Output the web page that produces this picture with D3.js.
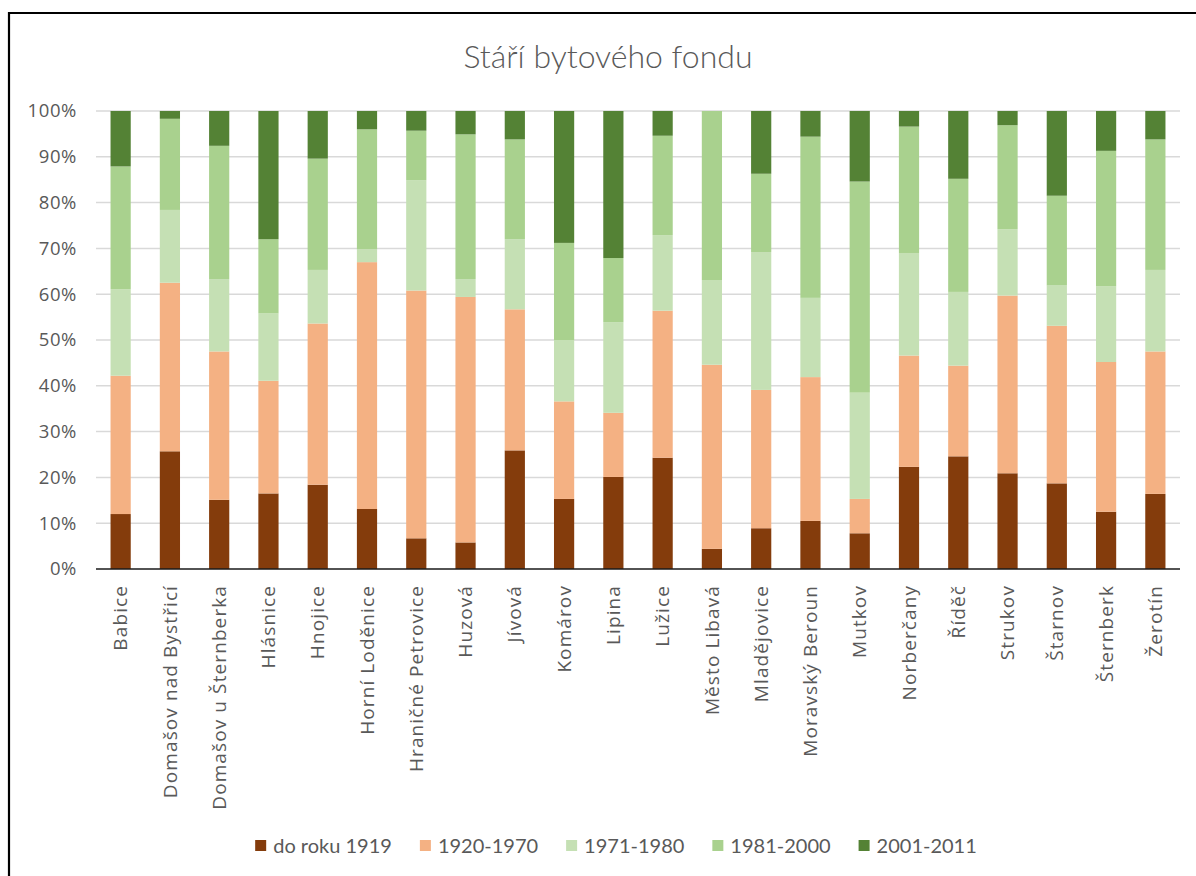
<!DOCTYPE html>
<html>
<head>
<meta charset="utf-8">
<script src="https://cdn.jsdelivr.net/npm/d3@7"></script>
<style>
  html, body { margin: 0; padding: 0; background: #fff; }
  svg { display: block; }
</style>
</head>
<body>
<svg id="chart" width="1196" height="876"></svg>
<script>
const categories = ["Babice","Domašov nad Bystřicí","Domašov u Šternberka","Hlásnice","Hnojice","Horní Loděnice","Hraničné Petrovice","Huzová","Jívová","Komárov","Lipina","Lužice","Město Libavá","Mladějovice","Moravský Beroun","Mutkov","Norberčany","Říděč","Strukov","Štarnov","Šternberk","Žerotín"];
const seriesNames = ["do roku 1919","1920-1970","1971-1980","1981-2000","2001-2011"];
const s1919 = [12.0,25.7,15.1,16.5,18.4,13.1,6.7,5.8,25.9,15.3,20.1,24.3,4.4,8.9,10.5,7.8,22.3,24.6,20.9,18.7,12.5,16.4];
const s1970 = [30.2,36.8,32.4,24.6,35.2,53.9,54.1,53.6,30.8,21.3,14.0,32.1,40.2,30.2,31.4,7.5,24.3,19.8,38.8,34.4,32.7,31.1];
const s1980 = [18.9,15.9,15.8,14.7,11.7,2.8,24.1,3.9,15.3,13.4,19.8,16.5,18.5,30.1,17.3,23.2,22.4,16.1,14.5,8.8,16.5,17.8];
const s2000 = [26.8,19.9,29.1,16.2,24.3,26.2,10.8,31.6,21.8,21.2,14.0,21.7,36.9,17.1,35.2,46.1,27.6,24.7,22.7,19.6,29.6,28.5];
const s2011 = [12.1,1.7,7.6,28.0,10.4,4.0,4.3,5.1,6.2,28.8,32.1,5.4,0.0,13.7,5.6,15.4,3.4,14.8,3.1,18.5,8.7,6.2];
const yTicks = [0,0.1,0.2,0.3,0.4,0.5,0.6,0.7,0.8,0.9,1.0];
const colors = ["#843C0C","#F4B183","#C5E0B4","#A9D18E","#548235"];

const seriesValues = [s1919, s1970, s1980, s2000, s2011];
const rows = categories.map((c, i) => {
  const total = seriesValues.reduce((a, s) => a + s[i], 0);
  const r = { cat: c };
  seriesNames.forEach((n, k) => r[n] = seriesValues[k][i] / total);
  return r;
});
const stacked = d3.stack().keys(seriesNames)(rows);

const svg = d3.select("#chart");
const textCol = "#595959";

// frame
svg.append("line").attr("x1", 9).attr("x2", 1196).attr("y1", 13).attr("y2", 13)
  .attr("stroke", "#000").attr("stroke-width", 2.2);
svg.append("line").attr("x1", 9).attr("x2", 9).attr("y1", 12).attr("y2", 876)
  .attr("stroke", "#000").attr("stroke-width", 2.2);

const x = d3.scaleBand().domain(categories).range([96, 1180]).paddingInner(0.59).paddingOuter(0.295);
const y = d3.scaleLinear().domain([0, 1]).range([569, 111]);

// title
svg.append("text").attr("x", 608).attr("y", 68).attr("text-anchor", "middle")
  .attr("font-family", "Lato, 'Open Sans', sans-serif").attr("font-weight", 300)
  .attr("font-size", 32).attr("fill", textCol).text("Stáří bytového fondu");

// gridlines
svg.append("g").selectAll("line").data(yTicks.filter(t => t > 0)).join("line")
  .attr("x1", 96).attr("x2", 1180)
  .attr("y1", d => y(d)).attr("y2", d => y(d))
  .attr("stroke", "#D9D9D9").attr("stroke-width", 1.5);

// y axis labels
const yAxis = d3.axisLeft(y).tickValues(yTicks).tickFormat(d3.format(".0%")).tickSize(0).tickPadding(0);
const gy = svg.append("g").attr("transform", "translate(77,0)").call(yAxis);
gy.select(".domain").remove();
gy.selectAll("text").attr("font-family", "'Open Sans', sans-serif").attr("font-size", 18.5)
  .attr("letter-spacing", 0.6).attr("fill", textCol);

// bars
svg.append("g").selectAll("g").data(stacked).join("g")
  .attr("fill", (d, i) => colors[i])
  .selectAll("rect").data(d => d).join("rect")
  .attr("x", d => x(d.data.cat))
  .attr("width", x.bandwidth())
  .attr("y", d => y(d[1]))
  .attr("height", d => Math.max(0, y(d[0]) - y(d[1])));

// x axis
const xAxis = d3.axisBottom(x).tickSize(0).tickPadding(0);
const gx = svg.append("g").attr("transform", "translate(0,569)").call(xAxis);
gx.select(".domain").attr("stroke", "#1a1a1a").attr("stroke-width", 1.6)
  .attr("d", "M96,0H1180");
gx.selectAll("text")
  .attr("font-family", "'Open Sans', sans-serif").attr("font-size", 19).attr("fill", textCol)
  .attr("letter-spacing", 1.1)
  .attr("text-anchor", "end")
  .attr("transform", "translate(0,16) rotate(-90)")
  .attr("dy", "0.35em").attr("y", 0).attr("x", 0);

// legend
const lg = svg.append("g");
const items = lg.selectAll("g").data(seriesNames).join("g");
items.append("rect").attr("width", 11).attr("height", 11).attr("y", -6).attr("fill", (d, i) => colors[i]);
items.append("text").attr("x", 18).attr("dy", "0.35em")
  .attr("font-family", "Lato, sans-serif").attr("font-size", 20).attr("fill", textCol)
  .text(d => d);
const widths = [];
items.each(function () {
  widths.push(18 + this.querySelector("text").getComputedTextLength());
});
const gap = 28;
const totalW = widths.reduce((a, b) => a + b, 0) + gap * (widths.length - 1);
let start = 616 - totalW / 2;
items.attr("transform", (d, i) => {
  const t = `translate(${start},846)`;
  start += widths[i] + gap;
  return t;
});
</script>
</body>
</html>
